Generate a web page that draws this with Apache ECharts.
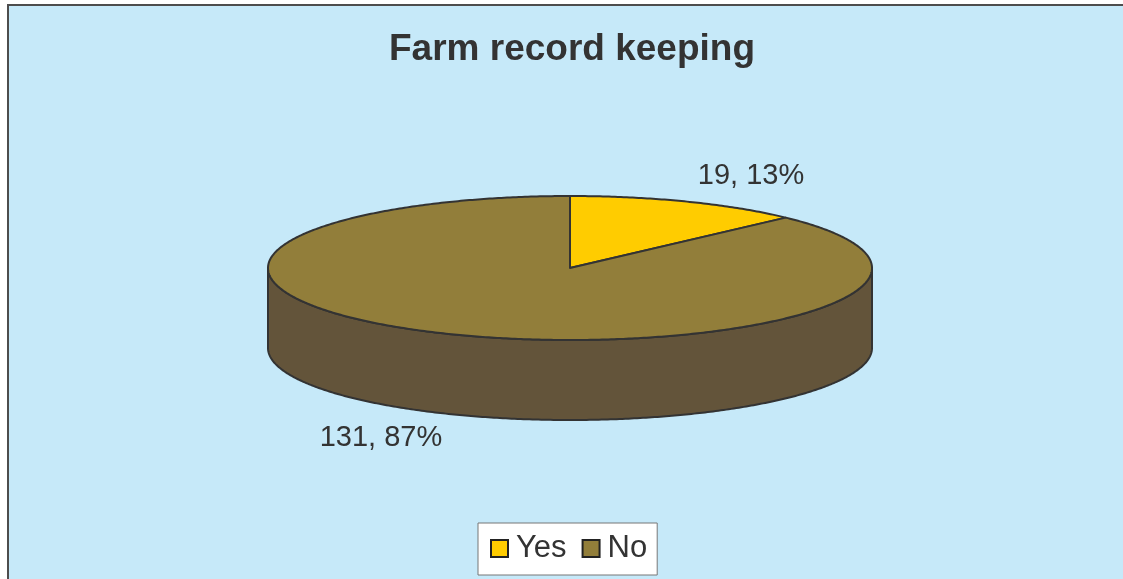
<!DOCTYPE html>
<html>
<head>
<meta charset="utf-8">
<script src="https://cdn.jsdelivr.net/npm/echarts@6/dist/echarts.min.js"></script>
<style>
html,body{margin:0;padding:0;background:#fff;width:1123px;height:579px;overflow:hidden;}
#frame{position:absolute;left:7px;top:4px;width:1130px;height:590px;background:#C6E9F9;border-top:2px solid #4d4d4d;border-left:2px solid #4d4d4d;}
#chart{position:absolute;left:0;top:0;width:1123px;height:579px;}
</style>
</head>
<body>
<div id="frame"></div>
<div id="chart"></div>
<script>
// ---- data ----
const categories = ['Yes', 'No'];
const values = [19, 131];
const percentText = ['13%', '87%'];
const topColors = ['#FFCC00', '#927E3A'];
const sideColors = ['#A88600', '#63543A'];

// ---- layout (not data) ----
const L = { cx: 570, cy: 268, rx: 302, ry: 72, depth: 80 };
const labelAnchor = [[751, 176], [381, 438]];

const total = values.reduce((a, b) => a + b, 0);

function pt(theta, dy) {
  return [L.cx + L.rx * Math.sin(theta), L.cy - L.ry * Math.cos(theta) + (dy || 0)];
}
function arc(a, b, dy) {
  const pts = [];
  const n = Math.max(2, Math.ceil(Math.abs(b - a) / 0.01));
  for (let k = 0; k <= n; k++) pts.push(pt(a + (b - a) * k / n, dy));
  return pts;
}

function makeRender(i) {
  return function (params, api) {
    const before = values.slice(0, i).reduce((a, b) => a + b, 0);
    const v = api.value(0);
    const start = before / total * Math.PI * 2;
    const end = start + v / total * Math.PI * 2;
    const children = [];
    const a = Math.max(start, Math.PI / 2), b = Math.min(end, Math.PI * 1.5);
    if (a < b) {
      const topEdge = arc(a, b, 0);
      const botEdge = arc(b, a, L.depth);
      children.push({
        type: 'polygon',
        shape: { points: topEdge.concat(botEdge) },
        style: { fill: sideColors[i], stroke: '#333', lineWidth: 2, lineJoin: 'round' },
        z2: 1
      });
    }
    const pts = [[L.cx, L.cy]].concat(arc(start, end, 0));
    children.push({
      type: 'polygon',
      shape: { points: pts },
      style: { fill: topColors[i], stroke: '#333', lineWidth: 2, lineJoin: 'round' },
      z2: 2
    });
    children.push({
      type: 'text',
      x: labelAnchor[i][0], y: labelAnchor[i][1],
      style: {
        text: values[i] + ', ' + percentText[i],
        fill: '#333', font: '29px "Liberation Sans", Arial, sans-serif',
        align: 'center', verticalAlign: 'middle'
      },
      z2: 3
    });
    return { type: 'group', children: children };
  };
}

const chart = echarts.init(document.getElementById('chart'), null, { renderer: 'canvas' });
chart.setOption({
  backgroundColor: 'transparent',
  animation: false,
  title: {
    text: 'Farm record keeping',
    left: 384,
    top: 26,
    textStyle: { fontSize: 37, fontWeight: 'bold', color: '#333', fontFamily: '"Liberation Sans", Arial, sans-serif' }
  },
  legend: {
    data: categories,
    bottom: 4,
    left: 478,
    icon: 'rect',
    itemWidth: 17,
    itemHeight: 17,
    itemGap: 15,
    padding: [10, 10, 11, 12],
    backgroundColor: '#fff',
    borderColor: '#777',
    borderWidth: 1,
    borderRadius: 0,
    textStyle: { fontSize: 31, color: '#333', fontFamily: '"Liberation Sans", Arial, sans-serif', padding: [0, 0, 0, 3] }
  },
  series: categories.map((name, i) => ({
    type: 'custom',
    name: name,
    coordinateSystem: 'none',
    itemStyle: { color: topColors[i], borderColor: '#222', borderWidth: 1.5 },
    renderItem: makeRender(i),
    data: [[values[i]]]
  }))
});
</script>
</body>
</html>
